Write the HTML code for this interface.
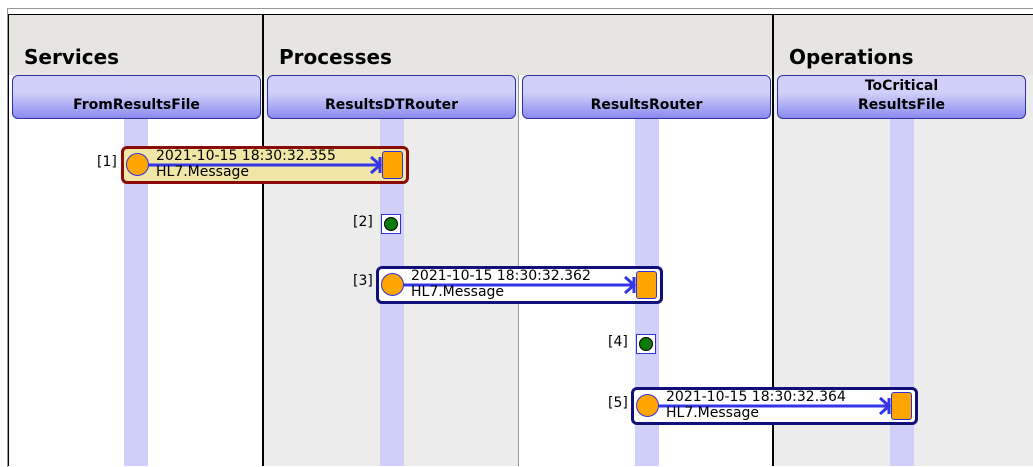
<!DOCTYPE html>
<html><head><style>
body{margin:0;width:1033px;height:466px;background:#fff;position:relative;overflow:hidden;font-family:"DejaVu Sans","Liberation Sans",sans-serif}
.a{position:absolute}
.hdr{background:#e7e5e2;top:14px;height:61px}
.lane{top:75px;height:391px}
.sec{font-weight:bold;font-size:20px;top:45px}
.lh{top:75px;height:44px;border:1px solid #3030a0;border-radius:6px;box-sizing:border-box;background:linear-gradient(#cfcff8 0%,#d0d0fa 40%,#8a8af0 100%);font-weight:bold;font-size:14px;text-align:center;display:flex;align-items:flex-end;justify-content:center;padding-bottom:3px;line-height:19px}
.life{width:24px;background:#cfcffa;top:119px;height:347px}
.msg{border:3px solid;border-radius:6px;box-sizing:border-box;height:38px}
.msg .c{position:absolute;left:2px;top:4px;width:23px;height:23px;border-radius:50%;background:#ffa500;border:1.5px solid #3030e0;box-sizing:border-box}
.msg .r{position:absolute;right:3px;top:2px;width:21px;height:28px;border-radius:3px;background:#ffa500;border:1.5px solid #3030e0;box-sizing:border-box}
.msg svg{position:absolute;left:0;top:0}
.msg .t{position:absolute;left:32px;top:-1px;font-size:14px;line-height:16px;color:#000}
.num{font-size:14px;color:#000}
.dot{width:20px;height:20px;border:1.5px solid #3030e0;box-sizing:border-box;background:#fff}
.dot:after{content:"";position:absolute;left:1.5px;top:1.5px;width:14px;height:14px;border-radius:50%;background:#0a7a0a;border:1px solid #000;box-sizing:border-box}
</style></head><body>
<div class="a" style="left:7px;top:8px;width:1026px;height:458px;border-top:1px solid #999;border-left:1px solid #999"></div>
<div class="a hdr" style="left:9px;width:1024px"></div>
<div class="a lane" style="left:9px;width:254px;background:#fff"></div>
<div class="a lane" style="left:264px;width:254px;background:#ececec"></div>
<div class="a lane" style="left:519px;width:254px;background:#fff"></div>
<div class="a lane" style="left:774px;width:259px;background:#ececec"></div>
<div class="a" style="left:8px;top:14px;width:1px;height:452px;background:#000"></div>
<div class="a" style="left:8px;top:14px;width:1025px;height:1px;background:#000"></div>
<div class="a" style="left:262px;top:14px;width:2px;height:452px;background:#000"></div>
<div class="a" style="left:772px;top:14px;width:2px;height:452px;background:#000"></div>
<div class="a" style="left:518px;top:75px;width:1px;height:391px;background:#999"></div>
<div class="a sec" style="left:24px">Services</div>
<div class="a sec" style="left:279px">Processes</div>
<div class="a sec" style="left:789px">Operations</div>
<div class="a life" style="left:124px"></div>
<div class="a life" style="left:380px"></div>
<div class="a life" style="left:635px"></div>
<div class="a life" style="left:890px"></div>
<div class="a lh" style="left:12px;width:249px">FromResultsFile</div>
<div class="a lh" style="left:267px;width:249px">ResultsDTRouter</div>
<div class="a lh" style="left:522px;width:249px">ResultsRouter</div>
<div class="a lh" style="left:777px;width:249px">ToCritical<br>ResultsFile</div>

<div class="a num" style="left:97px;top:154px">[1]</div>
<div class="a msg" style="left:121px;top:146px;width:288px;border-color:#8b0a0a;background:#f0e6a6"><svg width="282" height="32"><line x1="20" y1="16" x2="256" y2="16" stroke="#3535e8" stroke-width="3"/><polyline points="247,8 256,16 247,24" fill="none" stroke="#3535e8" stroke-width="3"/><line x1="256" y1="8" x2="256" y2="24" stroke="#3535e8" stroke-width="3"/></svg><div class="c"></div><div class="r"></div><div class="t">2021-10-15 18:30:32.355<br>HL7.Message</div></div>

<div class="a num" style="left:353px;top:214px">[2]</div>
<div class="a dot" style="left:381px;top:214px"></div>

<div class="a num" style="left:353px;top:273px">[3]</div>
<div class="a msg" style="left:376px;top:266px;width:287px;border-color:#10107a;background:#fff"><svg width="281" height="32"><line x1="20" y1="16" x2="255" y2="16" stroke="#3535e8" stroke-width="3"/><polyline points="246,8 255,16 246,24" fill="none" stroke="#3535e8" stroke-width="3"/><line x1="255" y1="8" x2="255" y2="24" stroke="#3535e8" stroke-width="3"/></svg><div class="c"></div><div class="r"></div><div class="t">2021-10-15 18:30:32.362<br>HL7.Message</div></div>

<div class="a num" style="left:608px;top:334px">[4]</div>
<div class="a dot" style="left:636px;top:334px"></div>

<div class="a num" style="left:608px;top:395px">[5]</div>
<div class="a msg" style="left:631px;top:387px;width:287px;border-color:#10107a;background:#fff"><svg width="281" height="32"><line x1="20" y1="16" x2="255" y2="16" stroke="#3535e8" stroke-width="3"/><polyline points="246,8 255,16 246,24" fill="none" stroke="#3535e8" stroke-width="3"/><line x1="255" y1="8" x2="255" y2="24" stroke="#3535e8" stroke-width="3"/></svg><div class="c"></div><div class="r"></div><div class="t">2021-10-15 18:30:32.364<br>HL7.Message</div></div>
</body></html>
